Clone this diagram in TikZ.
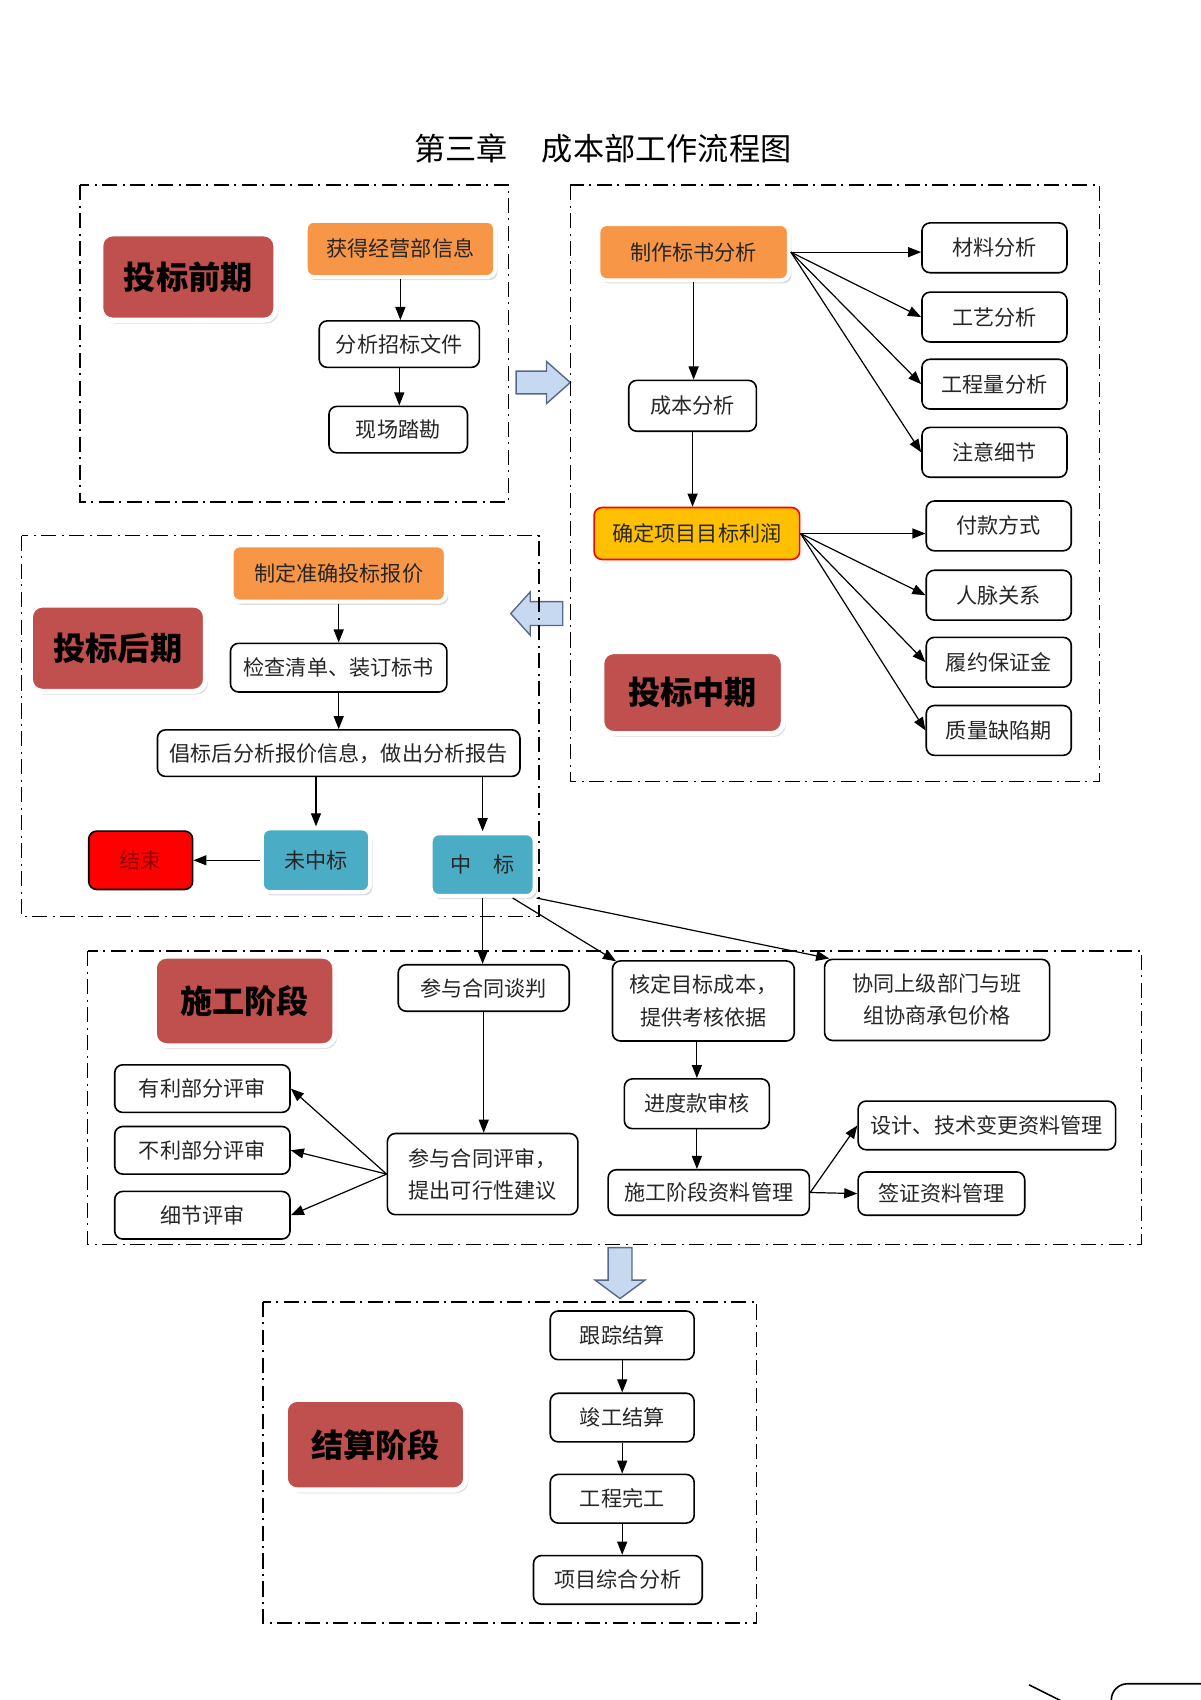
\documentclass[tikz,border=0pt]{standalone}
\usepackage{fontspec}
\setmainfont{Noto Sans CJK SC}
\usepackage{tikz}
\usetikzlibrary{arrows.meta,calc,shadows}
\definecolor{stagered}{HTML}{C0504D}
\definecolor{hotorange}{HTML}{F79646}
\definecolor{bidteal}{HTML}{4BACC6}
\definecolor{profgold}{HTML}{FFC000}
\definecolor{flowblue}{HTML}{C6D9F1}
\definecolor{flowedge}{HTML}{56698A}
\definecolor{endred}{HTML}{FF0000}
\newcommand{\pxu}{0.0189cm}
\tikzset{
  sz/.style 2 args={minimum width=#1*\pxu, minimum height=#2*\pxu},
  plainbox/.style={draw, rounded corners=4pt, line width=0.8pt, fill=white, inner sep=0pt,
    align=center, text=black!85, font=\fontsize{10.5}{16}\selectfont},
  glowbox/.style={rounded corners=4pt, draw=white, line width=2pt, inner sep=0pt, align=center,
    drop shadow={shadow xshift=1.2pt, shadow yshift=-1.6pt, fill=black!28},
    text=black!85, font=\fontsize{10.5}{16}\selectfont},
  stagebox/.style={glowbox, fill=stagered, rounded corners=6pt, line width=2.6pt,
    text=black, font=\bfseries\fontsize{16}{18}\selectfont},
  hotbox/.style={glowbox, fill=hotorange},
  tealbox/.style={glowbox, fill=bidteal},
  groupframe/.style={line width=0.7pt, dash pattern=on 7.5pt off 2.7pt on 1pt off 2.7pt},
  flow/.style={-{Triangle[length=6.5pt,width=5pt]}, line width=0.6pt},
  bigarrow/.style={fill=flowblue, draw=flowedge, line width=0.7pt},
}
\begin{document}
\begin{tikzpicture}[x=\pxu,y=-\pxu]
	\useasboundingbox (0,0) rectangle (1109,1571);
	\node (title) at (557,137) {\fontsize{15.5}{18}\selectfont 第三章\hspace{1.1em}成本部工作流程图};

	% 投标前期
	\draw [groupframe] (74,171) rectangle (470,464);
	\node [stagebox, sz={162}{80}] (qq) at (174,256) {投标前期};
	\node [hotbox, sz={175}{52}] (xx) at (370,230) {获得经营部信息};
	\node [plainbox, sz={148}{43}] (fx) at (369,318) {分析招标文件};
	\node [plainbox, sz={128}{43}] (xc) at (368,397) {现场踏勘};
	\draw [flow] (xx.south) -- (xx.south |- fx.north);
	\draw [flow] (fx.south) -- (fx.south |- xc.north);

	\draw [bigarrow] (477,343) -- (505,343) -- (505,334) -- (527,353.5) -- (505,373) -- (505,364) -- (477,364) -- cycle;

	% 投标中期
	\draw [groupframe] (527,171) rectangle (1016,722);
	\node [hotbox, sz={176}{52}] (zz) at (641,233) {制作标书分析};
	\node [plainbox, sz={118}{47}] (cf) at (640,375) {成本分析};
	\node [plainbox, draw=red, fill=profgold, sz={190}{48}] (qd) at (644,493) {确定项目目标利润};
	\node [stagebox, sz={168}{76}] (zq) at (640,640) {投标中期};
	\node [plainbox, sz={134}{46}] (cl) at (919,229) {材料分析};
	\draw [flow] (zz.east) -- (zz.east -| cl.west);
	\foreach \name/\txt/\yy in {gy/工艺分析/293, gcl/工程量分析/355, zy/注意细节/418}{
		\node [plainbox, sz={134}{46}] (\name) at (919,\yy) {\txt};
		\draw [flow] (zz.east) -- (\name.west);
	}
	\node [plainbox, sz={134}{46}] (fk) at (923,486) {付款方式};
	\draw [flow] (qd.east) -- (qd.east -| fk.west);
	\foreach \name/\txt/\yy in {rm/人脉关系/550, ly/履约保证金/612, zl/质量缺陷期/675}{
		\node [plainbox, sz={134}{46}] (\name) at (923,\yy) {\txt};
		\draw [flow] (qd.east) -- (\name.west);
	}
	\draw [flow] (zz.south) -- (zz.south |- cf.north);
	\draw [flow] (cf.south) -- (cf.south |- qd.north);

	\draw [bigarrow] (520,556) -- (490,556) -- (490,547) -- (472,567) -- (490,587) -- (490,578) -- (520,578) -- cycle;

	% 投标后期
	\draw [groupframe] (20,495) rectangle (498,847);
	\node [hotbox, sz={198}{52}] (zd) at (313,530) {制定准确投标报价};
	\node [stagebox, sz={162}{80}] (hq) at (109,599) {投标后期};
	\node [plainbox, sz={200}{45}] (jc) at (313,617) {检查清单、装订标书};
	\node [plainbox, sz={335}{43}] (cx) at (313,696) {倡标后分析报价信息，做出分析报告};
	\node [plainbox, fill=endred, text=red!55!black, sz={96}{54}] (js) at (130,795) {结束};
	\node [tealbox, sz={100}{59}] (wzb) at (292,795) {未中标};
	\node [tealbox, sz={96}{58}] (zb) at (446,799) {中\hspace{1em}标};
	\draw [flow] (zd.south) -- (zd.south |- jc.north);
	\draw [flow] (jc.south) -- (jc.south |- cx.north);
	\draw [flow] (wzb.north |- cx.south) -- (wzb.north);
	\draw [flow] (zb.north |- cx.south) -- (zb.north);
	\draw [flow] (wzb.west) -- (js.east);

	% 施工阶段
	\draw [groupframe] (81,879) rectangle (1055,1150);
	\node [stagebox, sz={167}{83}] (sg) at (226,925) {施工阶段};
	\node [plainbox, sz={158}{43}] (tp) at (447,913) {参与合同谈判};
	\node [plainbox, sz={168}{74}] (hd) at (650,925) {核定目标成本，\\提供考核依据};
	\node [plainbox, sz={208}{75}] (xt) at (866,924) {协同上级部门与班\\组协商承包价格};
	\node [plainbox, sz={162}{44}] (yl) at (187,1006) {有利部分评审};
	\node [plainbox, sz={162}{44}] (bl) at (187,1063) {不利部分评审};
	\node [plainbox, sz={162}{44}] (xj) at (187,1123) {细节评审};
	\node [plainbox, sz={176}{75}] (ps) at (446,1085) {参与合同评审，\\提出可行性建议};
	\node [plainbox, sz={134}{46}] (jd) at (644,1020) {进度款审核};
	\node [plainbox, sz={186}{42}] (gl) at (655,1102) {施工阶段资料管理};
	\node [plainbox, sz={238}{45}] (sj) at (912,1040) {设计、技术变更资料管理};
	\node [plainbox, sz={154}{40}] (qz) at (870,1103) {签证资料管理};
	\draw [flow] (zb.south) -- (zb.south |- tp.north);
	\draw [flow] (zb.-48) -- ($(hd.north west)+(4,1)$);
	\draw [flow] (zb.south east) -- ($(xt.north west)+(5,0)$);
	\draw [flow] (tp.south) -- (tp.south |- ps.north);
	\foreach \name in {yl,bl,xj}
		\draw [flow] (ps.west) -- (\name.east);
	\draw [flow] (jd.north |- hd.south) -- (jd.north);
	\draw [flow] (jd.south) -- (jd.south |- gl.north);
	\draw [flow] (gl.east) -- (sj.west);
	\draw [flow] (gl.east) -- (qz.west);

	\draw [bigarrow] (562,1153) -- (584,1153) -- (584,1183) -- (596,1183) -- (573,1200) -- (550,1183) -- (562,1183) -- cycle;

	% 结算阶段
	\draw [groupframe] (243,1203) rectangle (699,1500);
	\node [stagebox, sz={167}{84}] (jsj) at (347,1335) {结算阶段};
	\node [plainbox, sz={133}{45}] (gz) at (575,1234) {跟踪结算};
	\node [plainbox, sz={133}{45}] (jg) at (575,1310) {竣工结算};
	\node [plainbox, sz={133}{45}] (wg) at (575,1385) {工程完工};
	\node [plainbox, sz={156}{45}] (xm) at (571,1460) {项目综合分析};
	\draw [flow] (gz.south) -- (gz.south |- jg.north);
	\draw [flow] (jg.south) -- (jg.south |- wg.north);
	\draw [flow] (wg.south) -- (wg.south |- xm.north);

	% next page
	\draw [line width=0.8pt] (951,1557) -- (981,1572);
	\draw [line width=0.8pt, rounded corners=8pt] (1027,1580) -- (1027,1556) -- (1120,1556);
\end{tikzpicture}
\end{document}
